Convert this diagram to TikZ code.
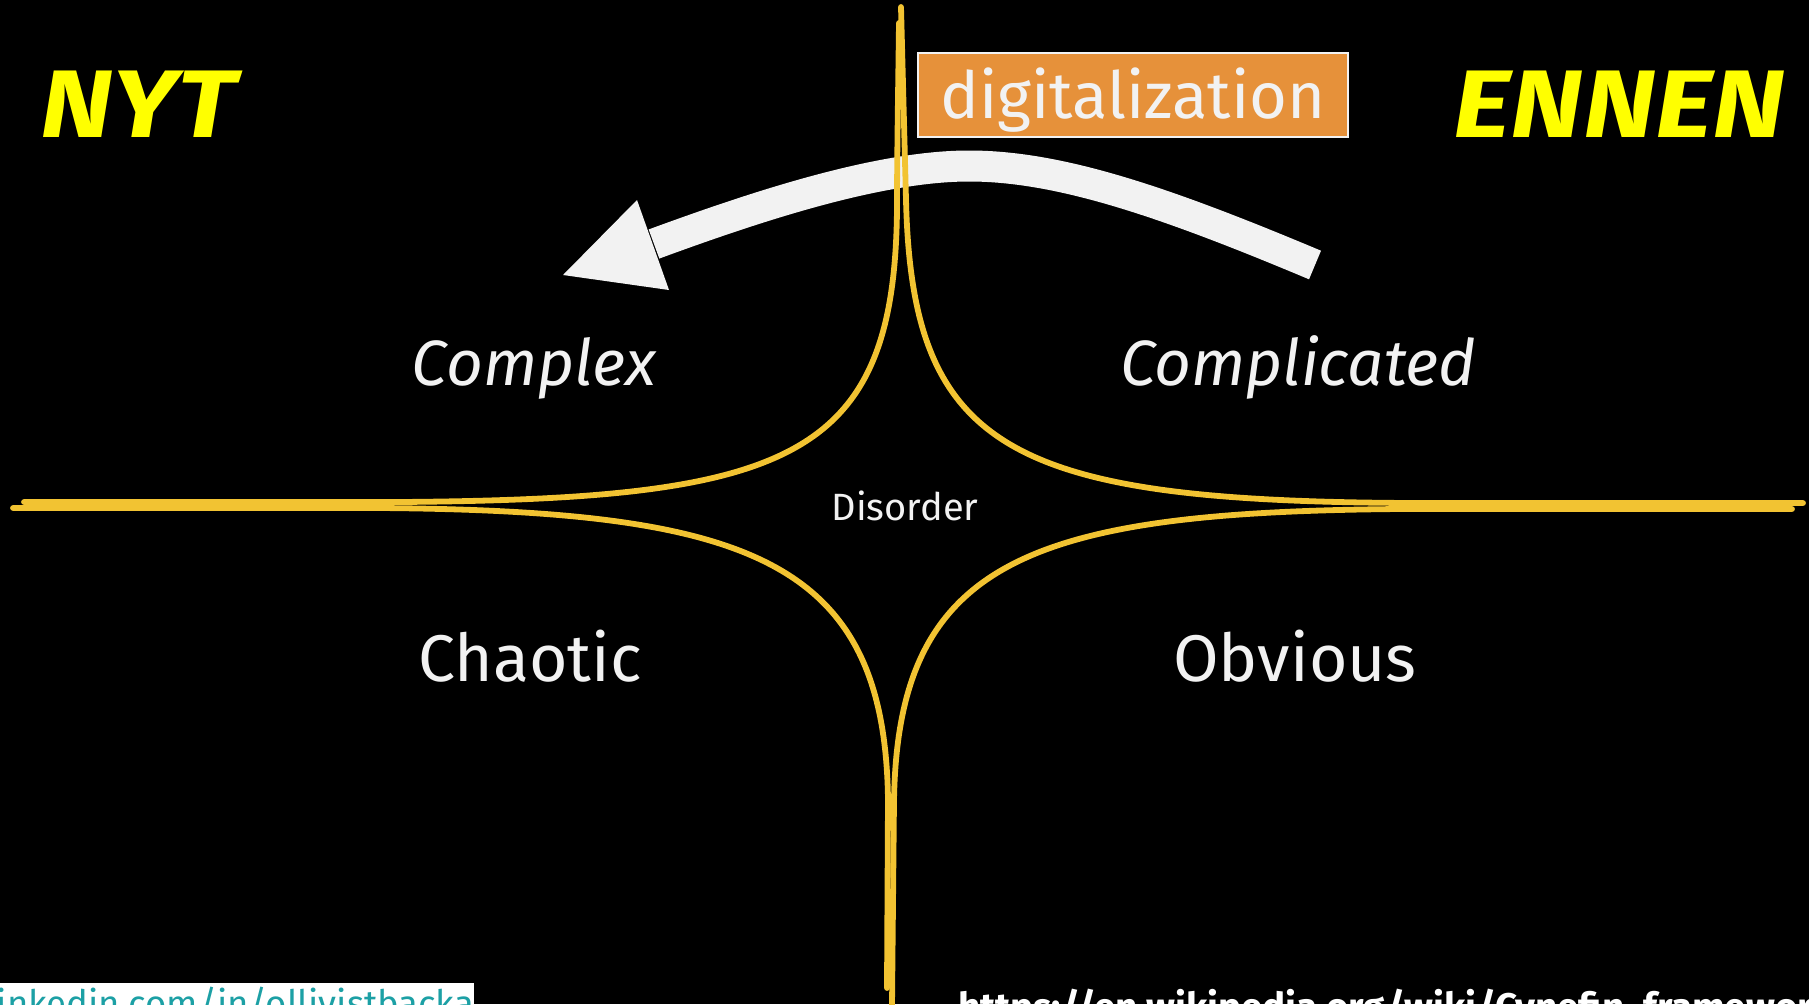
\documentclass[tikz,border=0pt]{standalone}
\usepackage{fontspec}
\setmainfont{Fira Sans}
\definecolor{gold}{RGB}{242,195,50}
\definecolor{orangebox}{RGB}{230,145,58}
\definecolor{offwhite}{RGB}{242,242,242}
\definecolor{nytyellow}{RGB}{255,255,0}
\definecolor{linkteal}{RGB}{28,160,165}
\begin{document}
\begin{tikzpicture}[x=1pt,y=-1pt,
  axis/.style={draw=gold, line width=5.8pt, line cap=round},
  quadit/.style={text=offwhite, anchor=base, inner sep=0pt, font=\fontsize{64}{70}\selectfont\itshape},
  quadup/.style={text=offwhite, anchor=base, inner sep=0pt, font=\fontsize{66}{72}\selectfont},
  bigword/.style={text=nytyellow, anchor=base west, inner sep=0pt, font=\fontsize{96}{104}\selectfont\bfseries\itshape},
  arrowband/.style={draw=offwhite, line width=31pt}]
\useasboundingbox (0,0) rectangle (1809,1004);
\fill[black] (0,0) rectangle (1809,1004);
\clip (0,0) rectangle (1809,1004);

% white arrow
\coordinate (tail) at (1315,265);
\coordinate (peak) at (969,166);
\coordinate (base) at (654,244);
\coordinate (tip) at (563,275);
\coordinate (hA) at (637,200);
\coordinate (hB) at (669,290);
\draw[arrowband] (tail) .. controls (1165,202) and (1060,166) .. (peak) .. controls (880,166) and (760,205) .. (base);
\fill[offwhite] (hA) -- (tip) -- (hB) -- cycle;

% Cynefin borders
\draw[axis] (899,23) .. controls (898,100) and (897,160) .. (897,208) .. controls (895,460) and (790,499) .. (400,502) -- (24,502);
\draw[axis] (901,7) -- (906,200) .. controls (912,450) and (1010,501) .. (1410,503) -- (1803,503);
\draw[axis] (13,508) -- (380,508) .. controls (750,511) and (885,560) .. (888,800) -- (887,988);
\draw[axis] (1792,509) -- (1400,509) .. controls (1030,512) and (898,560) .. (894,800) -- (892,1006);

% box
\node[fill=orangebox, draw=offwhite, line width=1.5pt, anchor=base, inner xsep=0pt, inner ysep=0pt,
      minimum width=430pt, text height=65pt, text depth=19pt, text=offwhite,
      font=\fontsize{65}{72}\selectfont] (digi) at (1133,118) {digitalization};

% titles
\node[bigword] (nyt) at (40,137) {\scalebox{1.155}[1]{NYT}};
\node[bigword] (ennen) at (1453,137) {\scalebox{1.155}[1]{ENNEN}};

% quadrant labels
\node[quadit] (complex) at (534,385) {Complex};
\node[quadit] (complicated) at (1298,385) {Complicated};
\node[quadup] (chaotic) at (530,681) {Chaotic};
\node[quadup] (obvious) at (1295,681) {Obvious};
\node[text=offwhite, anchor=base, inner sep=0pt, font=\fontsize{38}{44}\selectfont] (disorder) at (905,520) {Disorder};

% footer
\fill[white] (0,983) rectangle (474,1004);
\node[text=linkteal, anchor=base west, inner sep=0pt, font=\fontsize{36.5}{42}\selectfont] (linkedin) at (-14,1016) {linkedin.com/in/ollivistbacka};
\node[text=white, anchor=base west, inner sep=0pt, font=\fontsize{38.5}{44}\selectfont\bfseries] (wiki) at (958,1020) {https://en.wikipedia.org/wiki/Cynefin\_framework};
\end{tikzpicture}
\end{document}
